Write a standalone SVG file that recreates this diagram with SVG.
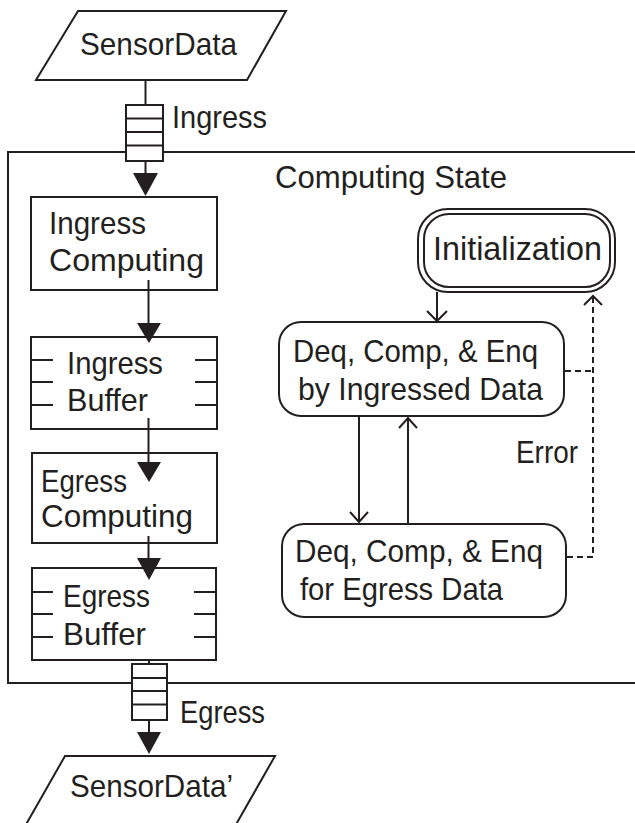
<svg xmlns="http://www.w3.org/2000/svg" width="635" height="823" viewBox="0 0 635 823">
  <style>
    .shape { fill: #ffffff; stroke: #231f20; stroke-width: 2; }
    .line { fill: none; stroke: #231f20; stroke-width: 2; }
    .dash { fill: none; stroke: #231f20; stroke-width: 2; stroke-dasharray: 6 4; }
    .head { fill: #231f20; stroke: none; }
    .open { fill: none; stroke: #231f20; stroke-width: 2; stroke-linejoin: miter; }
    text { font-family: "Liberation Sans", Arial, sans-serif; font-size: 31.5px; fill: #231f20; }
    .big { font-size: 34px; }
  </style>
  <rect width="635" height="823" fill="#ffffff"/>

  <!-- Computing State frame (runs off the right edge) -->
  <g id="computing-state">
    <path class="line" d="M640 152 H8 V683 H640"/>
    <text x="275" y="188" textLength="232" lengthAdjust="spacingAndGlyphs">Computing State</text>
  </g>

  <!-- input data -->
  <g id="sensor-data">
    <polygon class="shape" points="78,11 286,11 247,80 36,80"/>
    <text x="80" y="55" textLength="157" lengthAdjust="spacingAndGlyphs">SensorData</text>
  </g>

  <!-- ingress queue -->
  <g id="ingress-queue">
    <rect class="shape" x="126" y="105" width="37" height="56"/>
    <path class="line" d="M126 118.5 H163 M126 132 H163 M126 145.5 H163"/>
    <text x="172" y="128" textLength="95" lengthAdjust="spacingAndGlyphs">Ingress</text>
  </g>

  <g id="ingress-computing">
    <rect class="shape" x="31" y="197" width="186" height="93"/>
    <text x="49" y="234" textLength="97" lengthAdjust="spacingAndGlyphs">Ingress</text>
    <text x="49" y="271" textLength="155" lengthAdjust="spacingAndGlyphs">Computing</text>
  </g>

  <g id="ingress-buffer">
    <rect class="shape" x="31" y="337" width="186" height="92"/>
    <path class="line" d="M31 360 H53 M31 382 H53 M31 405 H53 M195 360 H217 M195 382 H217 M195 405 H217"/>
    <text x="67" y="374" textLength="96" lengthAdjust="spacingAndGlyphs">Ingress</text>
    <text x="67" y="411" textLength="81" lengthAdjust="spacingAndGlyphs">Buffer</text>
  </g>

  <g id="egress-computing">
    <rect class="shape" x="32" y="453" width="185" height="90"/>
    <text x="41" y="492" textLength="86" lengthAdjust="spacingAndGlyphs">Egress</text>
    <text x="41" y="527" textLength="152" lengthAdjust="spacingAndGlyphs">Computing</text>
  </g>

  <g id="egress-buffer">
    <rect class="shape" x="32" y="568" width="184" height="92"/>
    <path class="line" d="M32 592 H53 M32 614 H53 M32 637 H53 M194 592 H216 M194 614 H216 M194 637 H216"/>
    <text x="63" y="607" textLength="87" lengthAdjust="spacingAndGlyphs">Egress</text>
    <text x="63" y="645" textLength="83" lengthAdjust="spacingAndGlyphs">Buffer</text>
  </g>

  <!-- egress queue -->
  <g id="egress-queue">
    <rect class="shape" x="132" y="664" width="35" height="56"/>
    <path class="line" d="M132 678 H167 M132 691 H167 M132 704.5 H167"/>
    <text x="180" y="723" textLength="85" lengthAdjust="spacingAndGlyphs">Egress</text>
  </g>

  <!-- output data -->
  <g id="sensor-data-out">
    <polygon class="shape" points="65,756 275,756 234,828 24,828"/>
    <text x="70" y="797" textLength="163" lengthAdjust="spacingAndGlyphs">SensorData’</text>
  </g>

  <!-- states -->
  <g id="initialization">
    <rect class="shape" x="418" y="209" width="197" height="83" rx="30"/>
    <rect class="shape" x="424" y="214" width="186" height="73" rx="25"/>
    <text class="big" x="433" y="260" textLength="169" lengthAdjust="spacingAndGlyphs">Initialization</text>
  </g>

  <g id="ingress-state">
    <rect class="shape" x="279" y="322" width="285" height="94" rx="22"/>
    <text x="293" y="362" textLength="245" lengthAdjust="spacingAndGlyphs">Deq, Comp, &amp; Enq</text>
    <text x="298" y="400" textLength="245" lengthAdjust="spacingAndGlyphs">by Ingressed Data</text>
  </g>

  <g id="egress-state">
    <rect class="shape" x="282" y="524" width="284" height="93" rx="22"/>
    <text x="295" y="562" textLength="248" lengthAdjust="spacingAndGlyphs">Deq, Comp, &amp; Enq</text>
    <text x="300" y="600" textLength="203" lengthAdjust="spacingAndGlyphs">for Egress Data</text>
  </g>

  <!-- connectors, drawn over the boxes so heads overlap their edges -->
  <g id="connectors">
    <!-- data path on the left -->
    <line class="line" x1="145.5" y1="81" x2="145.5" y2="105"/>
    <line class="line" x1="145.5" y1="161" x2="145.5" y2="178"/>
    <polygon class="head" points="133,173 158,173 145.5,196"/>
    <line class="line" x1="148.5" y1="280" x2="148.5" y2="328"/>
    <polygon class="head" points="137,323 161,323 149,343"/>
    <line class="line" x1="148.5" y1="418" x2="148.5" y2="466"/>
    <polygon class="head" points="137,462 161,462 149,482"/>
    <line class="line" x1="148.5" y1="536" x2="148.5" y2="562"/>
    <polygon class="head" points="137,558 161,558 149,580"/>
    <line class="line" x1="149" y1="660" x2="149" y2="664"/>
    <line class="line" x1="149" y1="721" x2="149" y2="736"/>
    <polygon class="head" points="137,732 161,732 149,754"/>

    <!-- state transitions -->
    <line class="line" x1="437" y1="292" x2="437" y2="321"/>
    <polyline class="open" points="427,311 437,321 447,311"/>
    <line class="line" x1="359" y1="416" x2="359" y2="522"/>
    <polyline class="open" points="350,512 359,522 368,512"/>
    <line class="line" x1="408" y1="524" x2="408" y2="418"/>
    <polyline class="open" points="399,428 408,418 417,428"/>

    <!-- error path -->
    <path class="dash" d="M565 371 H593"/>
    <path class="dash" d="M567 557 H593 V297"/>
    <polyline class="open" points="584,305 593,296 602,305"/>
    <text x="516" y="463" textLength="62" lengthAdjust="spacingAndGlyphs">Error</text>
  </g>
</svg>
